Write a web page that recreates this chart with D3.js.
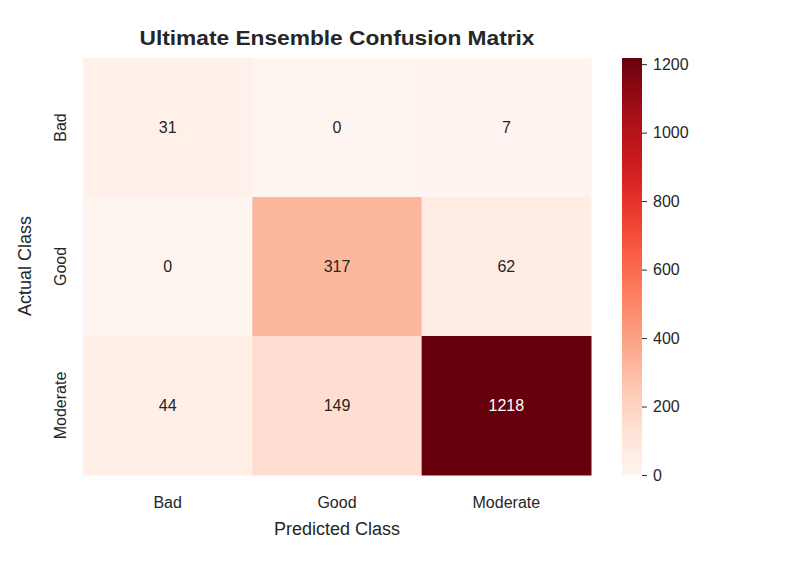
<!DOCTYPE html><html><head><script src="https://cdn.jsdelivr.net/npm/d3@7"></script>
<style>body{margin:0;background:#fff}text{font-family:"Liberation Sans",Arial,sans-serif;fill:#262626}</style></head><body>
<script>
const classes=["Bad","Good","Moderate"];
const matrix=[[31,0,7],[0,317,62],[44,149,1218]];
const cbTicks=[0,200,400,600,800,1000,1200];
const W=798,H=568;
const svg=d3.select("body").append("svg").attr("width",W).attr("height",H);
const x=d3.scaleBand().domain(classes).range([83,591]);
const y=d3.scaleBand().domain(classes).range([58,475]);
const vmax=1218;
const color=d3.scaleSequential(d3.interpolateReds).domain([0,vmax]);
const cells=[];matrix.forEach((r,i)=>r.forEach((v,j)=>cells.push({a:classes[i],p:classes[j],v})));
svg.selectAll("rect.c").data(cells).join("rect").attr("x",d=>x(d.p)).attr("y",d=>y(d.a)).attr("width",x.bandwidth()+0.5).attr("height",y.bandwidth()+0.5).attr("fill",d=>color(d.v));
svg.selectAll("text.v").data(cells).join("text").attr("x",d=>x(d.p)+x.bandwidth()/2).attr("y",d=>y(d.a)+y.bandwidth()/2).attr("dy","0.35em").attr("text-anchor","middle").attr("font-size",16).style("fill",d=>d.v>vmax*0.6?"#fff":"#262626").text(d=>d.v);
svg.selectAll("text.xt").data(classes).join("text").attr("x",d=>x(d)+x.bandwidth()/2).attr("y",508).attr("text-anchor","middle").attr("font-size",16).text(d=>d);
svg.selectAll("text.yt").data(classes).join("text").attr("transform",d=>`translate(66,${y(d)+y.bandwidth()/2}) rotate(-90)`).attr("text-anchor","middle").attr("font-size",16).text(d=>d);
svg.append("text").attr("x",337).attr("y",535).attr("text-anchor","middle").attr("font-size",18).text("Predicted Class");
svg.append("text").attr("transform","translate(31,266) rotate(-90)").attr("text-anchor","middle").attr("font-size",18).text("Actual Class");
svg.append("text").attr("x",337).attr("y",45).attr("text-anchor","middle").attr("font-size",20).attr("font-weight","bold").attr("textLength",395).attr("lengthAdjust","spacingAndGlyphs").text("Ultimate Ensemble Confusion Matrix");
const cy=d3.scaleLinear().domain([0,vmax]).range([475,58]);
const defs=svg.append("defs");const g=defs.append("linearGradient").attr("id","cb").attr("x1",0).attr("x2",0).attr("y1",1).attr("y2",0);
d3.range(0,1.001,0.05).forEach(t=>g.append("stop").attr("offset",t).attr("stop-color",color(t*vmax)));
svg.append("rect").attr("x",622).attr("y",58).attr("width",20).attr("height",417).attr("fill","url(#cb)");
const ax=svg.append("g").attr("transform","translate(642,0)").call(d3.axisRight(cy).tickValues(cbTicks).tickFormat(d3.format("d")).tickSize(5).tickPadding(6));
ax.select(".domain").remove();ax.selectAll("line").attr("stroke","#262626");
ax.selectAll("text").attr("font-size",16).style("font-family","Liberation Sans,Arial,sans-serif");
</script></body></html>
